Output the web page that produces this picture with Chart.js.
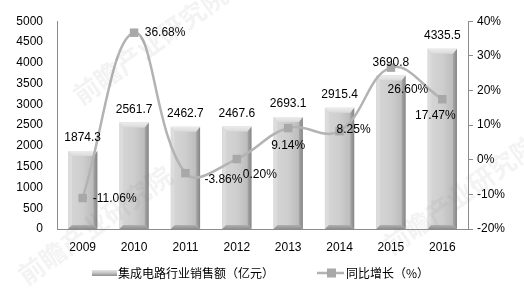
<!DOCTYPE html>
<html>
<head>
<meta charset="utf-8">
<script src="https://cdn.jsdelivr.net/npm/chart.js@4.4.1/dist/chart.umd.min.js"></script>
<style>
  html, body { margin: 0; padding: 0; background: #fff; }
</style>
</head>
<body>
<canvas id="chart" width="524" height="289"></canvas>
<script>
// 数据
const years = ["2009", "2010", "2011", "2012", "2013", "2014", "2015", "2016"];
const sales = [1874.3, 2561.7, 2462.7, 2467.6, 2693.1, 2915.4, 3690.8, 4335.5];
const growth = [-11.06, 36.68, -3.86, 0.20, 9.14, 8.25, 26.60, 17.47];
const salesTicks = [0, 500, 1000, 1500, 2000, 2500, 3000, 3500, 4000, 4500, 5000];
const growthTicks = [-20, -10, 0, 10, 20, 30, 40];

const salesName = "集成电路行业销售额（亿元）";
const growthName = "同比增长（%）";

// 百分比标签相对数据点的偏移（标签中心）
const pctLabelShift = [[32, 1], [31, 0], [38, 7], [23, 16], [0, 18], [14, -1], [17, 22], [-7, 16]];

const numFont = "12px 'Liberation Sans', Arial, sans-serif";
const cjkFont = "12px 'Noto Sans CJK SC', sans-serif";
const axisColor = "#8c8c8c";

// 立体柱子效果
const bevelBars = {
  id: "bevelBars",
  afterDatasetDraw(chart, args) {
    if (args.index !== 0) return;
    const ctx = chart.ctx;
    args.meta.data.forEach(bar => {
      const p = bar.getProps(["x", "y", "base", "width"], true);
      const l = p.x - p.width / 2, r = p.x + p.width / 2, t = p.y, b = p.base;
      const s = 4, tb = 5, bb = 4;
      ctx.save();
      // 正面
      let g = ctx.createLinearGradient(l + s, 0, r - s, 0);
      g.addColorStop(0, "#d4d4d4");
      g.addColorStop(0.5, "#cecece");
      g.addColorStop(1, "#bcbcbc");
      ctx.fillStyle = g;
      ctx.fillRect(l + s, t + tb, r - l - 2 * s, b - t - tb - bb);
      // 左侧
      ctx.fillStyle = "#dcdcdc";
      ctx.beginPath();
      ctx.moveTo(l, t); ctx.lineTo(l + s, t + tb); ctx.lineTo(l + s, b - bb); ctx.lineTo(l, b);
      ctx.closePath(); ctx.fill();
      // 右侧
      g = ctx.createLinearGradient(r - s, 0, r, 0);
      g.addColorStop(0, "#a8a8a8");
      g.addColorStop(1, "#858585");
      ctx.fillStyle = g;
      ctx.beginPath();
      ctx.moveTo(r, t); ctx.lineTo(r - s, t + tb); ctx.lineTo(r - s, b - bb); ctx.lineTo(r, b);
      ctx.closePath(); ctx.fill();
      // 顶部
      g = ctx.createLinearGradient(0, t, 0, t + tb);
      g.addColorStop(0, "#ececec");
      g.addColorStop(1, "#d9d9d9");
      ctx.fillStyle = g;
      ctx.beginPath();
      ctx.moveTo(l, t); ctx.lineTo(r, t); ctx.lineTo(r - s, t + tb); ctx.lineTo(l + s, t + tb);
      ctx.closePath(); ctx.fill();
      // 底部
      g = ctx.createLinearGradient(0, b - bb, 0, b);
      g.addColorStop(0, "#b0b0b0");
      g.addColorStop(1, "#8e8e8e");
      ctx.fillStyle = g;
      ctx.beginPath();
      ctx.moveTo(l, b); ctx.lineTo(r, b); ctx.lineTo(r - s, b - bb); ctx.lineTo(l + s, b - bb);
      ctx.closePath(); ctx.fill();
      ctx.restore();
    });
  }
};

// 数据标签 + 图例 + 水印
const labelsAndLegend = {
  id: "labelsAndLegend",
  afterDatasetsDraw(chart) {
    const ctx = chart.ctx;
    ctx.save();
    ctx.font = numFont;
    ctx.fillStyle = "#000";
    ctx.textAlign = "center";
    ctx.textBaseline = "middle";
    chart.getDatasetMeta(0).data.forEach((bar, i) => {
      ctx.fillText(sales[i].toFixed(1), bar.x, bar.y - 13);
    });
    chart.getDatasetMeta(1).data.forEach((pt, i) => {
      const [dx, dy] = pctLabelShift[i];
      ctx.fillText(growth[i].toFixed(2) + "%", pt.x + dx, pt.y + dy);
    });

    // 图例
    const ly = 273;
    let g = ctx.createLinearGradient(0, ly - 3, 0, ly + 3);
    g.addColorStop(0, "#e4e4e4");
    g.addColorStop(0.5, "#c4c4c4");
    g.addColorStop(1, "#8e8e8e");
    ctx.fillStyle = g;
    ctx.fillRect(92, ly - 3, 25, 6);
    ctx.fillStyle = "#000";
    ctx.font = cjkFont;
    ctx.textAlign = "left";
    ctx.fillText(salesName, 118, ly);

    ctx.strokeStyle = "#b3b3b3";
    ctx.lineWidth = 2.5;
    ctx.beginPath();
    ctx.moveTo(317, ly); ctx.lineTo(344, ly);
    ctx.stroke();
    ctx.fillStyle = "#a8a8a8";
    ctx.fillRect(327, ly - 4.5, 9, 9);
    ctx.fillStyle = "#000";
    ctx.fillText(growthName, 346, ly);
    ctx.restore();
  },
  afterDraw(chart) {
    const ctx = chart.ctx;
    ctx.save();
    ctx.fillStyle = "rgba(120,120,120,0.09)";
    ctx.font = "bold 26px 'Noto Sans CJK SC', sans-serif";
    ctx.textAlign = "center";
    ctx.textBaseline = "middle";
    [[150, 45], [95, 225], [460, 195]].forEach(([x, y]) => {
      ctx.save();
      ctx.translate(x, y);
      ctx.rotate(-0.62);
      ctx.fillText("前瞻产业研究院", 0, 0);
      ctx.restore();
    });
    ctx.restore();
  }
};

new Chart(document.getElementById("chart"), {
  data: {
    labels: years,
    datasets: [
      {
        type: "bar",
        label: salesName,
        data: sales,
        yAxisID: "y",
        backgroundColor: "#c8c8c8",
        borderWidth: 0,
        barPercentage: 0.57,
        categoryPercentage: 1,
        order: 2
      },
      {
        type: "line",
        label: growthName,
        data: growth,
        yAxisID: "y1",
        borderColor: "#b3b3b3",
        borderWidth: 2.5,
        tension: 0.4,
        pointStyle: "rect",
        pointRadius: 6,
        pointBackgroundColor: "#a8a8a8",
        pointBorderWidth: 0,
        clip: false,
        order: 1
      }
    ]
  },
  options: {
    responsive: false,
    animation: false,
    layout: { padding: { top: 11, left: 0, right: 0, bottom: 0 } },
    plugins: {
      legend: { display: false },
      tooltip: { enabled: false }
    },
    scales: {
      x: {
        offset: true,
        grid: { display: false, drawTicks: false },
        border: { color: axisColor },
        ticks: { color: "#000", font: { family: "'Liberation Sans', Arial", size: 12 }, padding: 11 },
        afterFit: s => { s.height = 60; }
      },
      y: {
        position: "left",
        min: 0,
        max: 5000,
        afterBuildTicks: s => { s.ticks = salesTicks.map(v => ({ value: v })); },
        grid: { display: false, drawTicks: false },
        border: { color: axisColor },
        ticks: {
          color: "#000",
          font: { family: "'Liberation Sans', Arial", size: 12 },
          padding: 14,
          callback: v => String(v)
        },
        afterFit: s => { s.width = 57; }
      },
      y1: {
        position: "right",
        min: -20,
        max: 40,
        afterBuildTicks: s => { s.ticks = growthTicks.map(v => ({ value: v })); },
        grid: { drawOnChartArea: false, drawTicks: true, tickLength: 5, color: axisColor },
        border: { color: axisColor },
        ticks: {
          color: "#000",
          font: { family: "'Liberation Sans', Arial", size: 12 },
          padding: 4,
          callback: v => v + "%"
        },
        afterFit: s => { s.width = 56; }
      }
    }
  },
  plugins: [bevelBars, labelsAndLegend]
});
</script>
</body>
</html>
